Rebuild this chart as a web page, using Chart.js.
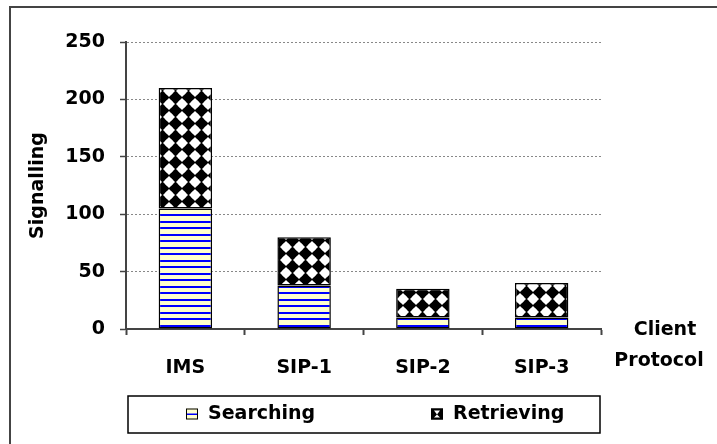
<!DOCTYPE html>
<html>
<head>
<meta charset="utf-8">
<title>Signalling</title>
<script src="https://cdn.jsdelivr.net/npm/chart.js@4.4.0/dist/chart.umd.min.js"></script>
<style>
html,body{margin:0;padding:0;background:#fff;}
#wrap{width:717px;height:444px;}
</style>
</head>
<body>
<div id="wrap"><canvas id="Grafico1" width="717" height="444"></canvas></div>
<script>
let categorias=['IMS','SIP-1','SIP-2','SIP-3'];
let searching=[105,38,10,10];
let retrieving=[105,42,25,30];
let ticks_y=[0,50,100,150,200,250];
let nombres=['Searching','Retrieving'];
let titulo_x=['Client','Protocol'];
let titulo_y='Signalling';

let fuente={family:'DejaVu Sans',weight:'bold',size:19};

/*relleno de rayas azules sobre amarillo*/
function rayas(){
	let c=document.createElement('canvas');
	c.width=8;c.height=13;
	let x=c.getContext('2d');
	x.fillStyle='#FFFFCC';
	x.fillRect(0,0,8,13);
	x.fillStyle='#0000FF';
	x.fillRect(0,0,8,2);
	x.fillRect(0,6,8,2);
	return x.createPattern(c,'repeat');
}

/*relleno de rombos negros sobre blanco*/
function rombos(){
	let c=document.createElement('canvas');
	c.width=13;c.height=13;
	let x=c.getContext('2d');
	x.fillStyle='#fff';
	x.fillRect(0,0,13,13);
	x.fillStyle='#000';
	x.beginPath();
	x.moveTo(6.5,-0.5);x.lineTo(13.5,6.5);x.lineTo(6.5,13.5);x.lineTo(-0.5,6.5);
	x.closePath();
	x.fill();
	x.fillStyle='#fff';
	[[0,0],[13,0],[0,13],[13,13]].forEach(p=>{
		x.beginPath();
		x.arc(p[0],p[1],4,0,Math.PI*2);
		x.fill();
	});
	return x.createPattern(c,'repeat');
}

let fondo={
	id:'fondo',
	beforeDraw(chart){
		let ctx=chart.ctx;
		ctx.save();
		ctx.fillStyle='#fff';
		ctx.fillRect(0,0,chart.width,chart.height);
		ctx.strokeStyle='#444';
		ctx.lineWidth=2;
		ctx.beginPath();
		ctx.moveTo(10,chart.height);
		ctx.lineTo(10,7);
		ctx.lineTo(chart.width,7);
		ctx.stroke();
		ctx.restore();
	}
};

let leyenda={
	id:'leyenda',
	afterDraw(chart){
		let ctx=chart.ctx;
		let a=chart.chartArea;
		let izq=a.left+2, der=a.right-1, arriba=a.bottom+67, alto=37;
		ctx.save();
		ctx.strokeStyle='#000';
		ctx.lineWidth=1.5;
		ctx.strokeRect(izq,arriba,der-izq,alto);
		let cy=arriba+alto/2;
		let xs=[izq+58,izq+303];
		ctx.font='bold 19px "DejaVu Sans"';
		ctx.textBaseline='middle';
		ctx.fillStyle='#000';
		chart.data.datasets.forEach((d,i)=>{
			let x=xs[i];
			if(i==0){
				ctx.fillStyle='#FFFFCC';
				ctx.fillRect(x,cy-6,12,11);
				ctx.fillStyle='#0000FF';
				ctx.fillRect(x,cy-1,12,1.5);
			}else{
				ctx.fillStyle='#000';
				ctx.fillRect(x,cy-6,12,11);
				ctx.fillStyle='#fff';
				ctx.beginPath();
				ctx.moveTo(x+3,cy-4);ctx.lineTo(x+9,cy-4);ctx.lineTo(x+6,cy);
				ctx.lineTo(x+9,cy+3);ctx.lineTo(x+3,cy+3);ctx.lineTo(x+6,cy);
				ctx.closePath();ctx.fill();
			}
			ctx.strokeStyle='#000';
			ctx.lineWidth=1;
			ctx.strokeRect(x+0.5,cy-5.5,11,10);
			ctx.fillStyle='#000';
			ctx.fillText(d.label,x+22,cy);
		});
		/*titulo del eje x a la derecha*/
		ctx.textAlign='center';
		ctx.textBaseline='alphabetic';
		ctx.fillText(titulo_x[0],a.right+64,a.bottom+6);
		ctx.fillText(titulo_x[1],a.right+58,a.bottom+37);
		ctx.restore();
	}
};

let CanvasG1=document.getElementById('Grafico1').getContext('2d');
let datos={
	labels:categorias,
	datasets:[
		{
			label:nombres[0],
			data:searching,
			backgroundColor:rayas(),
			borderColor:'#000',
			borderWidth:1.5,
			borderSkipped:false
		},
		{
			label:nombres[1],
			data:retrieving,
			backgroundColor:rombos(),
			borderColor:'#000',
			borderWidth:1.5,
			borderSkipped:false
		}
	]
};
let opciones={
	responsive:false,
	animation:false,
	layout:{padding:{top:42,right:116,left:0,bottom:0}},
	datasets:{bar:{categoryPercentage:1,barPercentage:0.45}},
	plugins:{legend:{display:false},tooltip:{enabled:false}},
	scales:{
		x:{
			stacked:true,
			grid:{offset:true,drawOnChartArea:false,tickLength:6,tickColor:'#444',tickWidth:2},
			border:{color:'#444',width:2},
			ticks:{padding:22,color:'#000',font:fuente},
			afterFit(s){s.height=115;}
		},
		y:{
			stacked:true,
			min:0,
			max:250,
			afterBuildTicks(s){s.ticks=ticks_y.map(v=>({value:v}));},
			grid:{color:'#888',lineWidth:1,tickLength:6,tickColor:'#444',tickWidth:1.5,tickBorderDash:[]},
			border:{color:'#444',width:2,dash:[2,2]},
			ticks:{padding:15,color:'#000',font:fuente},
			title:{display:true,text:titulo_y,color:'#000',font:fuente,padding:{top:27,bottom:0}},
			afterFit(s){s.width=126;}
		}
	}
};
let G1=new Chart(CanvasG1,{
	type:'bar',
	data:datos,
	options:opciones,
	plugins:[fondo,leyenda]
});
</script>
</body>
</html>
